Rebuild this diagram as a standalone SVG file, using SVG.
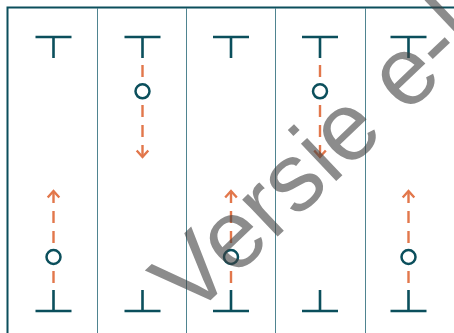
<svg xmlns="http://www.w3.org/2000/svg" width="454" height="333" viewBox="0 0 454 333">
  <style>
    .frame { fill: none; stroke: #0b4f5c; stroke-width: 2; }
    .sep { fill: none; stroke: #4f8490; stroke-width: 1; }
    .tee { fill: none; stroke: #0b4f5c; stroke-width: 2.6; stroke-linecap: butt; }
    .node { fill: #ffffff; stroke: #0b4f5c; stroke-width: 2.5; }
    .flow { fill: none; stroke: #e2774b; stroke-width: 2.4; stroke-dasharray: 12 8; marker-end: url(#chev); }
    .wm { font-family: "Liberation Sans", Arial, sans-serif; font-size: 97px; fill: #404040; fill-opacity: 0.6; }
  </style>
  <defs>
    <marker id="chev" markerUnits="userSpaceOnUse" markerWidth="16" markerHeight="16" refX="0" refY="0" orient="auto" overflow="visible">
      <path d="M-6.5,-5.8 L0,0 L-6.5,5.8" fill="none" stroke="#e2774b" stroke-width="2.4"/>
    </marker>
  </defs>
  <rect width="454" height="333" fill="#ffffff"/>
  <path class="frame" d="M7.5,340 V7.5 H460"/>
  <g id="separators">
    <line class="sep" x1="97.5" y1="8" x2="97.5" y2="333"/>
    <line class="sep" x1="186.5" y1="8" x2="186.5" y2="333"/>
    <line class="sep" x1="275.5" y1="8" x2="275.5" y2="333"/>
    <line class="sep" x1="365.5" y1="8" x2="365.5" y2="333"/>
  </g>
  <g id="connectors">
    <path class="flow" d="M53.5,283 V191"/>
    <path class="flow" d="M142.5,65 V157"/>
    <path class="flow" d="M231,283 V191"/>
    <path class="flow" d="M320,65 V157"/>
    <path class="flow" d="M408.5,283 V191"/>
  </g>
  <g id="col1">
    <path class="tee" d="M35.5,37 H71.5 M53.5,37 V58"/>
    <path class="tee" d="M35.5,311 H71.5 M53.5,311 V290"/>
    <circle class="node" cx="53.5" cy="257" r="7"/>
  </g>
  <g id="col2">
    <path class="tee" d="M124.5,37 H160.5 M142.5,37 V58"/>
    <path class="tee" d="M124.5,311 H160.5 M142.5,311 V290"/>
    <circle class="node" cx="142.5" cy="91.3" r="7"/>
  </g>
  <g id="col3">
    <path class="tee" d="M213,37 H249 M231,37 V58"/>
    <path class="tee" d="M213,311 H249 M231,311 V290"/>
    <circle class="node" cx="231" cy="257" r="7"/>
  </g>
  <g id="col4">
    <path class="tee" d="M302,37 H338 M320,37 V58"/>
    <path class="tee" d="M302,311 H338 M320,311 V290"/>
    <circle class="node" cx="320" cy="91.3" r="7"/>
  </g>
  <g id="col5">
    <path class="tee" d="M390.5,37 H426.5 M408.5,37 V58"/>
    <path class="tee" d="M390.5,311 H426.5 M408.5,311 V290"/>
    <circle class="node" cx="408.5" cy="257" r="7"/>
  </g>
  <text class="wm" transform="translate(190.6,319.2) rotate(-43.5)">Versie e-l</text>
</svg>
